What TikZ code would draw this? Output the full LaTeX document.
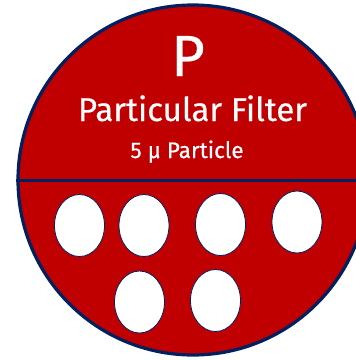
\documentclass[tikz,border=0pt]{standalone}
\usepackage{fontspec}
\setmainfont{Fira Sans}
\newfontfamily\labelfont[FakeBold=0.4]{Fira Sans}
\usetikzlibrary{positioning,shapes.geometric}
\definecolor{filterred}{RGB}{192,0,0}
\definecolor{filternavy}{RGB}{0,32,96}
\tikzset{
	disc/.style={circle, draw=filternavy, fill=filterred, line width=3.2pt, minimum size=350pt, inner sep=0pt},
	hole/.style={ellipse, draw=filternavy, fill=white, line width=0.8pt, minimum width=50pt, minimum height=62pt, inner sep=0pt},
	whitetext/.style={text=white, inner sep=0pt, anchor=base}
}
\begin{document}
\begin{tikzpicture}[x=1pt,y=-1pt]
	\useasboundingbox (0,0) rectangle (356,360);
	\clip (0,0) rectangle (356,360);
	\node[disc] (filter) at (193,180) {};
	\draw[filternavy, line width=3pt] (filter.west) -- (filter.east);
	\node[whitetext, font=\labelfont\fontsize{58}{58}\selectfont] (letter) at (188,76) {P};
	\node[whitetext, font=\labelfont\fontsize{33}{33}\selectfont] (name) at (192.5,121) {Particular Filter};
	\node[whitetext, font=\labelfont\fontsize{22.5}{22.5}\selectfont] (size) at (187,158) {5 μ Particle};
	% holes
	\node[hole] (h1) at (79.5,225.5) {};
	\node[hole] (h2) at (144,225.5) {};
	\node[hole] (h3) at (220.5,224.5) {};
	\node[hole] (h4) at (297,222) {};
	\node[hole] (h5) at (139.5,302) {};
	\node[hole] (h6) at (215.5,300.5) {};
\end{tikzpicture}
\end{document}
